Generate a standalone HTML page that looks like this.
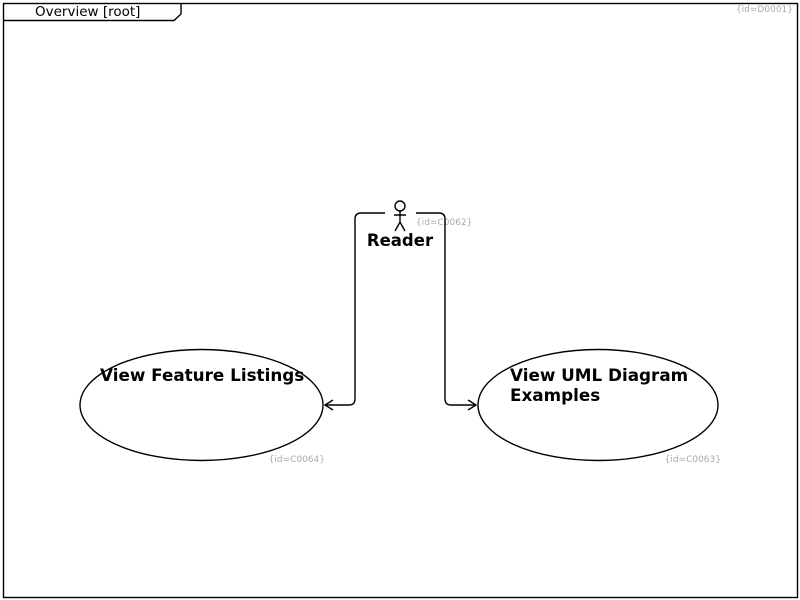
<!DOCTYPE html>
<html><head><style>
body{margin:0;background:#fff;}
svg{display:block;font-family:"DejaVu Sans","Liberation Sans",sans-serif;}
</style></head><body>
<svg width="800" height="600" viewBox="0 0 800 600">
<rect x="3.5" y="3.5" width="794" height="594" fill="#fff" stroke="#000" stroke-width="1.4"/>
<path d="M3.5 20.5 H174 L181 14 V3.5" fill="none" stroke="#000" stroke-width="1.4"/>
<text x="35" y="16" font-size="13.5" fill="#000">Overview [root]</text>
<text x="793" y="12" font-size="9" fill="#aaa" text-anchor="end">{id=D0001}</text>
<circle cx="400" cy="206" r="5" fill="none" stroke="#000" stroke-width="1.4"/>
<path d="M400 211 V222 M394 215 H406 M400 222 L395 231 M400 222 L405 231" fill="none" stroke="#000" stroke-width="1.4"/>
<text x="400" y="246" font-size="16.5" font-weight="bold" text-anchor="middle">Reader</text>
<text x="416" y="225" font-size="9" fill="#aaa">{id=C0062}</text>
<path d="M385 213 H361 Q355 213 355 219 V399 Q355 405 349 405 H325" fill="none" stroke="#000" stroke-width="1.4"/>
<path d="M333 400 L325 405 L333 410" fill="none" stroke="#000" stroke-width="1.4"/>
<path d="M416 213 H439 Q445 213 445 219 V399 Q445 405 451 405 H476" fill="none" stroke="#000" stroke-width="1.4"/>
<path d="M468 400 L476 405 L468 410" fill="none" stroke="#000" stroke-width="1.4"/>
<ellipse cx="201.5" cy="405" rx="121.5" ry="55.5" fill="#fff" stroke="#000" stroke-width="1.4"/>
<text x="100" y="381" font-size="16.8" font-weight="bold">View Feature Listings</text>
<text x="325" y="462" font-size="9" fill="#aaa" text-anchor="end">{id=C0064}</text>
<ellipse cx="598" cy="405" rx="120" ry="55.5" fill="#fff" stroke="#000" stroke-width="1.4"/>
<text x="510" y="381" font-size="16.8" font-weight="bold">View UML Diagram</text>
<text x="510" y="401" font-size="16.8" font-weight="bold">Examples</text>
<text x="721" y="462" font-size="9" fill="#aaa" text-anchor="end">{id=C0063}</text>
</svg>
</body></html>
